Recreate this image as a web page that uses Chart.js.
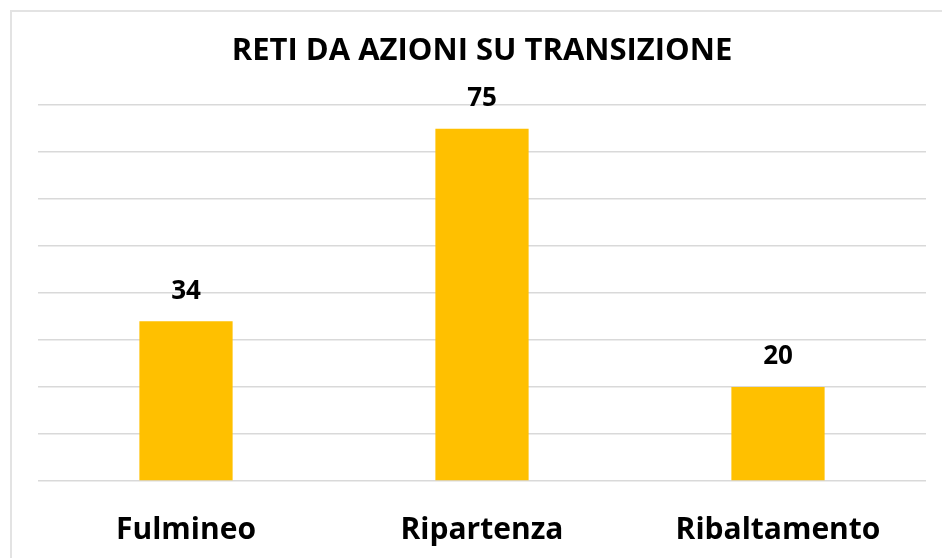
<!DOCTYPE html>
<html>
<head>
<meta charset="utf-8">
<script src="https://cdn.jsdelivr.net/npm/chart.js@4"></script>
<style>
  html, body { margin: 0; padding: 0; background: #fff; }
  #wrap { position: relative; width: 942px; height: 558px; overflow: hidden; }
  /* cornice del grafico (solo lati sinistro e superiore visibili) */
  #frame { position: absolute; left: 10px; top: 10px; width: 960px; height: 580px;
           border-left: 2px solid #e3e3e3; border-top: 2px solid #e3e3e3; }
  #myChart { position: absolute; left: 0; top: 0; }
</style>
</head>
<body>
<div id="wrap">
  <div id="frame"></div>
  <canvas id="myChart" width="942" height="558"></canvas>
</div>
<script>
// dati del grafico
const categories = ['Fulmineo', 'Ripartenza', 'Ribaltamento'];
const reti = [34, 75, 20];
const yMax = 80;
const yStep = 10;

const FONT = "'Open Sans', 'DejaVu Sans', sans-serif";

// scrive il valore sopra ogni barra
const valueLabels = {
  id: 'valueLabels',
  afterDatasetsDraw(chart) {
    const ctx = chart.ctx;
    const meta = chart.getDatasetMeta(0);
    ctx.save();
    ctx.font = 'bold 26px ' + FONT;
    ctx.fillStyle = '#000';
    ctx.textAlign = 'center';
    ctx.textBaseline = 'middle';
    meta.data.forEach((bar, i) => {
      ctx.fillText(String(chart.data.datasets[0].data[i]), bar.x, bar.y - 30);
    });
    ctx.restore();
  }
};

const ctx = document.querySelector('#myChart').getContext('2d');
const chart = new Chart(ctx, {
  type: 'bar',
  data: {
    labels: categories,
    datasets: [{
      label: 'Reti',
      data: reti,
      backgroundColor: '#FFC000',
      categoryPercentage: 1,
      barPercentage: 0.315
    }]
  },
  options: {
    responsive: false,
    animation: false,
    layout: { padding: { left: 38, right: 16, top: 0, bottom: 0 } },
    scales: {
      x: {
        grid: { display: false },
        border: { display: false },
        ticks: {
          color: '#000',
          padding: 23,
          font: { family: FONT, size: 30, weight: 'bold' }
        },
        afterFit(scale) { scale.height = 77; }
      },
      y: {
        min: 0,
        max: yMax,
        ticks: { display: false, stepSize: yStep },
        border: { display: false },
        grid: { color: '#d9d9d9', lineWidth: 1.5, drawTicks: false },
        afterFit(scale) { scale.width = 0; }
      }
    },
    plugins: {
      legend: { display: false },
      tooltip: { enabled: false },
      title: {
        display: true,
        text: 'RETI DA AZIONI SU TRANSIZIONE',
        color: '#000',
        font: { family: FONT, size: 31, weight: 'bold', lineHeight: 1.2 },
        padding: { top: 33, bottom: 35 }
      }
    }
  },
  plugins: [valueLabels]
});
</script>
</body>
</html>
